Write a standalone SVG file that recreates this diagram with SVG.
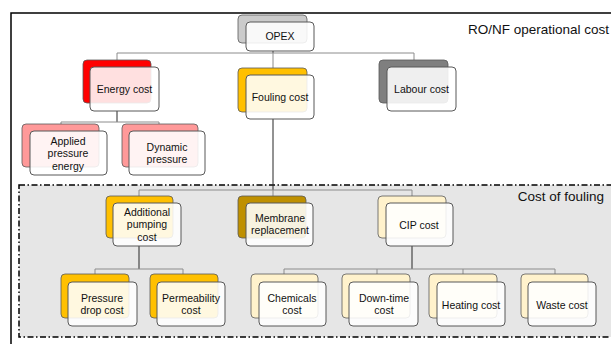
<svg xmlns="http://www.w3.org/2000/svg" width="611" height="344" viewBox="0 0 611 344">
<style>
.back{stroke:#595959;stroke-width:0.8}
.front{fill:#ffffff;fill-opacity:0.88;stroke:#595959;stroke-width:1}
.t{font-family:"Liberation Sans",Arial,sans-serif;font-size:10.5px;fill:#111;text-anchor:middle}
.big{font-family:"Liberation Sans",Arial,sans-serif;font-size:13.5px;fill:#111;text-anchor:end}
.bus{stroke:#8c8c8c;stroke-width:1;fill:none}
.drop{stroke:#262626;stroke-width:1;fill:none}
</style>
<rect x="0" y="0" width="611" height="344" fill="#ffffff"/>
<rect x="11" y="13" width="700" height="400" fill="none" stroke="#000" stroke-width="1.5"/>
<rect x="19" y="185" width="700" height="152" fill="#e6e6e6" stroke="#000" stroke-width="1.5" stroke-dasharray="6 2.5 1.5 2.5"/>
<text class="big" x="609" y="34">RO/NF operational cost</text>
<text class="big" x="604" y="200.5">Cost of fouling</text>

<g id="connectors">
<path class="drop" d="M273 51V53"/>
<path class="bus" d="M117 60V53H414V60M273 53V68"/>
<path class="drop" d="M117 111V122"/>
<path class="bus" d="M61 124V122H159V124"/>
<path class="drop" d="M273 119V190"/>
<path class="bus" d="M139 196V190H412V196M273 190V196"/>
<path class="drop" d="M139 246V269"/>
<path class="bus" d="M95 274V269H183V274"/>
<path class="drop" d="M412 246V269"/>
<path class="bus" d="M284 274V269H555V274M377 269V274M463 269V274"/>
</g>

<g id="opex">
<rect class="back" x="238" y="15" width="69" height="28" rx="4" fill="#cbcbcb"/>
<rect class="front" x="246" y="22" width="68" height="29" rx="4"/>
<text class="t" x="280" y="40">OPEX</text>
</g>
<g id="energy">
<rect class="back" x="83" y="60" width="68" height="43" rx="4" fill="#ff0000"/>
<rect class="front" x="90" y="67" width="69" height="44" rx="4"/>
<text class="t" x="124.5" y="92.6">Energy cost</text>
</g>
<g id="fouling">
<rect class="back" x="238" y="68" width="69" height="44" rx="4" fill="#ffc000"/>
<rect class="front" x="246" y="75" width="68" height="44" rx="4"/>
<text class="t" x="280" y="100.6">Fouling cost</text>
</g>
<g id="labour">
<rect class="back" x="379" y="60" width="69" height="43" rx="4" fill="#7f7f7f"/>
<rect class="front" x="387" y="67" width="69" height="44" rx="4"/>
<text class="t" x="421.5" y="92.6">Labour cost</text>
</g>
<g id="applied">
<rect class="back" x="22" y="124" width="77" height="43" rx="4" fill="#ff9999"/>
<rect class="front" x="30" y="131" width="77" height="44" rx="4"/>
<text class="t" x="68" y="144.6">Applied</text>
<text class="t" x="68" y="157.1">pressure</text>
<text class="t" x="68" y="169.6">energy</text>
</g>
<g id="dynamic">
<rect class="back" x="122" y="124" width="76" height="43" rx="4" fill="#ff9999"/>
<rect class="front" x="129" y="131" width="76" height="44" rx="4"/>
<text class="t" x="167" y="150.6">Dynamic</text>
<text class="t" x="167" y="163.1">pressure</text>
</g>
<g id="additional">
<rect class="back" x="106" y="196" width="67" height="42" rx="4" fill="#ffc000"/>
<rect class="front" x="113" y="203" width="68" height="43" rx="4"/>
<text class="t" x="147" y="215.6">Additional</text>
<text class="t" x="147" y="228.1">pumping</text>
<text class="t" x="147" y="240.6">cost</text>
</g>
<g id="membrane">
<rect class="back" x="238" y="196" width="68" height="42" rx="4" fill="#bf9000"/>
<rect class="front" x="246" y="203" width="67" height="43" rx="4"/>
<text class="t" x="280" y="221.6">Membrane</text>
<text class="t" x="280" y="234.1">replacement</text>
</g>
<g id="cip">
<rect class="back" x="378" y="196" width="68" height="42" rx="4" fill="#fff2cc"/>
<rect class="front" x="386" y="203" width="67" height="43" rx="4"/>
<text class="t" x="419" y="228.6">CIP cost</text>
</g>
<g id="pressuredrop">
<rect class="back" x="61" y="274" width="68" height="44" rx="4" fill="#ffc000"/>
<rect class="front" x="68" y="282" width="69" height="44" rx="4"/>
<text class="t" x="102" y="301.6">Pressure</text>
<text class="t" x="102" y="314.1">drop cost</text>
</g>
<g id="permeability">
<rect class="back" x="150" y="274" width="68" height="44" rx="4" fill="#ffc000"/>
<rect class="front" x="157" y="282" width="68" height="44" rx="4"/>
<text class="t" x="191" y="301.6">Permeability</text>
<text class="t" x="191" y="314.1">cost</text>
</g>
<g id="chemicals">
<rect class="back" x="251" y="274" width="67" height="44" rx="4" fill="#fff2cc"/>
<rect class="front" x="259" y="282" width="67" height="44" rx="4"/>
<text class="t" x="292" y="301.6">Chemicals</text>
<text class="t" x="292" y="314.1">cost</text>
</g>
<g id="downtime">
<rect class="back" x="342" y="274" width="68" height="44" rx="4" fill="#fff2cc"/>
<rect class="front" x="349" y="282" width="69" height="44" rx="4"/>
<text class="t" x="384" y="301.6">Down-time</text>
<text class="t" x="384" y="314.1">cost</text>
</g>
<g id="heating">
<rect class="back" x="429" y="274" width="68" height="44" rx="4" fill="#fff2cc"/>
<rect class="front" x="437" y="282" width="68" height="44" rx="4"/>
<text class="t" x="471" y="308.6">Heating cost</text>
</g>
<g id="waste">
<rect class="back" x="521" y="274" width="67" height="44" rx="4" fill="#fff2cc"/>
<rect class="front" x="528" y="282" width="68" height="44" rx="4"/>
<text class="t" x="562" y="308.6">Waste cost</text>
</g>
</svg>
